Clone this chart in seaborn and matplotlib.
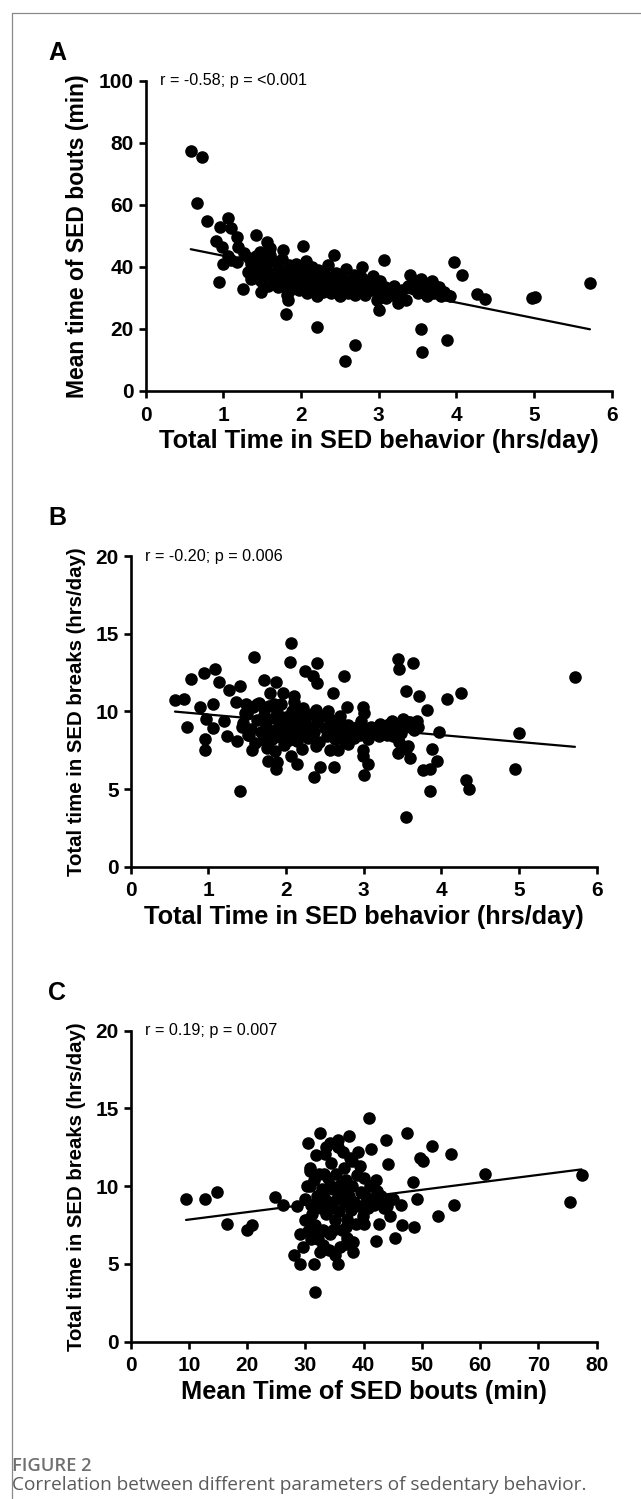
import numpy as np
import pandas as pd
import matplotlib
matplotlib.use("Agg")
import matplotlib.pyplot as plt
from matplotlib.lines import Line2D
import seaborn as sns

# ---------------- data ----------------
# Panel A: Total time in SED behavior (hrs/day) vs mean time of SED bouts (min)
A_x = [
    0.58, 0.73, 0.665, 0.785, 1.06, 0.96, 1.10, 0.91, 0.98, 1.17,
    1.19, 1.26, 1.00, 0.95, 1.25, 1.42, 1.56, 1.47, 1.60, 1.36,
    1.43, 1.48, 1.77, 2.03, 2.42, 2.78, 3.07, 3.97, 4.07, 3.40,
    4.26, 4.37, 4.97, 5.01, 5.72, 3.00, 1.80, 1.83, 2.20, 2.57,
    2.69, 3.54, 3.56, 3.88, 3.25, 1.10, 1.18, 1.33, 1.06, 1.32,
    1.35, 1.38, 1.42, 1.45, 1.48, 1.50, 1.52, 1.55, 1.58, 1.60,
    1.62, 1.65, 1.68, 1.70, 1.72, 1.74, 1.76, 1.78, 1.80, 1.82,
    1.84, 1.86, 1.88, 1.90, 1.92, 1.94, 1.96, 1.98, 2.00, 2.02,
    2.04, 2.06, 2.08, 2.10, 2.12, 2.14, 2.16, 2.18, 2.20, 2.22,
    2.24, 2.26, 2.28, 2.30, 2.32, 2.35, 2.38, 2.40, 2.42, 2.45,
    2.48, 2.50, 2.52, 2.55, 2.58, 2.60, 2.62, 2.65, 2.68, 2.70,
    2.72, 2.75, 2.78, 2.80, 2.83, 2.86, 2.90, 2.93, 2.96, 2.98,
    3.00, 3.02, 3.05, 3.08, 3.10, 3.14, 3.18, 3.20, 3.25, 3.30,
    3.35, 3.38, 3.45, 3.48, 3.50, 3.52, 3.55, 3.58, 3.60, 3.62,
    3.65, 3.68, 3.70, 3.72, 3.75, 3.78, 3.80, 3.84, 3.88, 3.92,
]
A_y = [
    77.5, 75.4, 60.7, 54.9, 55.7, 53.0, 52.5, 48.4, 46.6, 49.7,
    46.6, 44.4, 41.0, 35.3, 32.8, 50.3, 48.2, 45.0, 46.0, 36.0,
    37.0, 32.0, 45.5, 46.9, 44.0, 40.1, 42.1, 41.6, 37.5, 37.5,
    31.4, 29.6, 30.1, 30.3, 34.8, 26.2, 24.8, 29.3, 20.7, 9.6,
    14.9, 20.0, 12.7, 16.6, 28.3, 42.3, 41.5, 43.0, 43.5, 38.5,
    41.0, 36.5, 43.5, 39.0, 35.5, 42.0, 37.5, 40.5, 34.0, 44.0,
    38.0, 36.0, 41.5, 33.5, 39.0, 36.5, 42.5, 34.5, 38.0, 31.0,
    40.5, 36.0, 33.0, 39.5, 35.0, 41.0, 37.5, 32.5, 39.0, 34.0,
    36.5, 42.0, 31.5, 38.0, 35.0, 40.0, 33.0, 37.0, 30.5, 39.0,
    34.5, 36.0, 32.0, 38.5, 34.0, 40.5, 31.5, 36.5, 33.0, 38.0,
    35.0, 30.5, 37.0, 33.5, 39.5, 31.5, 35.5, 33.0, 37.5, 31.0,
    35.0, 32.5, 36.5, 33.5, 31.0, 35.0, 32.5, 37.0, 34.0, 29.5,
    32.0, 35.5, 31.0, 33.5, 30.0, 32.5, 31.0, 34.0, 30.5, 32.5,
    29.5, 34.0, 33.0, 35.5, 31.5, 34.0, 36.0, 32.5, 35.0, 30.5,
    33.5, 35.5, 31.5, 34.0, 32.5, 33.5, 30.5, 32.0, 31.0, 30.5,
]

# Panel B: Total time in SED behavior (hrs/day) vs total time in SED breaks (hrs/day)
B_x = [
    0.57, 0.68, 0.72, 0.78, 0.94, 1.08, 0.89, 1.06, 0.97, 1.06,
    0.96, 0.96, 1.14, 1.26, 1.20, 1.24, 1.41, 1.36, 1.41, 1.37,
    1.49, 1.62, 1.47, 1.43, 1.51, 1.56, 1.59, 1.71, 1.87, 1.79,
    1.70, 1.84, 1.77, 1.77, 1.87, 1.88, 2.07, 2.05, 1.96, 2.10,
    2.10, 2.07, 2.14, 2.20, 2.24, 2.35, 2.40, 2.40, 2.36, 2.38,
    2.54, 2.60, 2.74, 2.78, 2.70, 2.44, 2.62, 2.39, 2.56, 2.67,
    2.80, 2.99, 2.97, 3.01, 2.99, 2.99, 3.06, 3.01, 3.04, 3.21,
    3.12, 3.44, 3.46, 3.63, 3.55, 3.71, 3.82, 3.42, 3.48, 3.57,
    3.70, 3.38, 3.46, 3.57, 3.44, 3.55, 3.59, 3.55, 3.88, 3.76,
    3.85, 3.94, 3.85, 3.97, 4.07, 4.25, 4.32, 4.35, 4.95, 5.00,
    5.72, 1.45, 1.50, 1.52, 1.55, 1.58, 1.60, 1.62, 1.65, 1.68,
    1.70, 1.72, 1.74, 1.76, 1.78, 1.80, 1.82, 1.84, 1.86, 1.88,
    1.90, 1.92, 1.94, 1.96, 1.98, 2.00, 2.02, 2.04, 2.06, 2.08,
    2.10, 2.12, 2.14, 2.16, 2.18, 2.20, 2.22, 2.25, 2.28, 2.30,
    2.33, 2.36, 2.40, 2.43, 2.46, 2.50, 2.53, 2.56, 2.60, 2.63,
    2.66, 2.70, 2.73, 2.76, 2.80, 2.84, 2.88, 2.92, 2.95, 3.00,
    3.05, 3.10, 3.15, 3.20, 3.25, 3.30, 3.32, 3.36, 3.40, 3.50,
    3.53, 3.60, 3.65, 3.68,
]
B_y = [
    10.7, 10.8, 9.0, 12.1, 12.5, 12.7, 10.3, 10.5, 9.5, 8.95,
    8.2, 7.5, 11.9, 11.4, 9.4, 8.4, 11.6, 10.6, 4.9, 8.1,
    10.5, 10.5, 9.9, 9.0, 8.5, 7.5, 13.5, 12.0, 11.9, 11.2,
    10.3, 10.5, 7.7, 6.8, 6.3, 6.75, 14.4, 13.2, 11.2, 11.0,
    10.6, 7.1, 6.6, 7.6, 12.6, 12.3, 11.8, 13.1, 5.8, 10.1,
    10.0, 11.2, 12.3, 10.3, 9.7, 6.4, 6.4, 7.8, 7.5, 7.5,
    7.9, 10.3, 9.4, 9.9, 7.5, 7.1, 6.6, 5.9, 8.7, 9.2,
    8.6, 13.4, 12.7, 13.1, 11.3, 11.0, 10.1, 9.1, 8.6, 9.3,
    9.0, 8.4, 8.0, 7.8, 7.3, 7.6, 7.0, 3.2, 7.6, 6.2,
    6.3, 6.8, 4.9, 8.7, 10.8, 11.2, 5.6, 5.0, 6.3, 8.6,
    12.2, 9.25, 9.85, 8.45, 8.85, 10.25, 7.95, 9.45, 10.55, 8.65,
    8.15, 9.75, 9.05, 7.65, 10.35, 8.75, 8.25, 9.55, 7.45, 9.95,
    8.95, 8.35, 10.45, 9.25, 7.85, 9.65, 8.65, 8.15, 9.35, 10.05,
    8.8, 9.4, 8.1, 9.9, 9.2, 8.6, 10.2, 9.5, 8.3, 9.0,
    9.8, 8.7, 9.3, 8.0, 9.7, 8.9, 8.4, 9.5, 9.0, 8.2,
    8.8, 9.4, 8.6, 8.0, 9.1, 8.7, 8.3, 9.0, 8.5, 8.8,
    8.2, 9.0, 8.6, 8.4, 8.8, 8.5, 9.2, 9.4, 8.9, 9.5,
    9.1, 9.3, 8.8, 9.4,
]

# Panel C: Mean time of SED bouts (min) vs total time in SED breaks (hrs/day)
C_x = [
    9.5, 12.8, 14.9, 16.6, 20.0, 20.8, 24.7, 26.1, 28.5, 28.0,
    29.1, 31.5, 35.6, 31.6, 30.4, 32.5, 34.2, 35.6, 37.4, 40.9,
    41.2, 43.8, 44.1, 47.5, 48.5, 49.1, 49.7, 50.2, 51.8, 55.0,
    55.5, 52.8, 60.8, 75.4, 77.4, 46.4, 46.5, 48.7, 45.4, 42.1,
    42.7, 44.5, 44.0, 42.1, 39.1, 38.0, 38.2, 38.1, 37.1, 35.1,
    32.5, 29.6, 29.1, 40.0, 30.7, 30.7, 29.9, 30.2, 34.0, 36.0,
    30.0, 30.2, 30.5, 30.8, 31.0, 31.2, 31.5, 31.7, 32.0, 32.2,
    32.4, 32.6, 32.8, 33.0, 33.2, 33.4, 33.6, 33.8, 34.0, 34.2,
    34.4, 34.6, 34.8, 35.0, 35.2, 35.4, 35.6, 35.8, 36.0, 36.2,
    36.4, 36.6, 36.8, 37.0, 37.2, 37.4, 37.6, 37.8, 38.0, 38.3,
    38.6, 38.9, 39.2, 39.5, 39.8, 40.1, 40.4, 40.7, 41.0, 41.4,
    41.8, 42.2, 42.6, 43.0, 43.5, 44.2, 45.0, 31.0, 33.0, 37.0,
    33.5, 36.5, 31.8, 34.8, 32.3, 36.9, 39.4, 33.1, 35.9, 34.3,
]
C_y = [
    9.2, 9.2, 9.65, 7.6, 7.2, 7.5, 9.3, 8.8, 8.7, 5.6,
    5.0, 5.0, 5.0, 3.2, 12.8, 13.4, 12.8, 13.0, 13.2, 14.4,
    12.4, 13.0, 11.4, 13.4, 10.3, 9.2, 11.8, 11.6, 12.6, 12.1,
    8.8, 8.1, 10.8, 9.0, 10.7, 8.8, 7.5, 7.4, 6.7, 6.5,
    7.6, 8.1, 8.7, 10.4, 12.2, 11.6, 6.4, 5.8, 6.7, 5.6,
    5.8, 6.1, 6.9, 7.6, 11.15, 10.0, 9.2, 7.8, 5.9, 6.1,
    7.8, 10.0, 7.1, 11.0, 8.8, 8.2, 10.4, 7.5, 9.4, 6.6,
    10.8, 8.6, 9.8, 7.2, 9.3, 12.1, 8.2, 10.5, 9.0, 6.9,
    11.5, 8.6, 9.8, 7.8, 10.8, 9.2, 12.5, 8.4, 10.1, 7.2,
    9.6, 11.2, 8.9, 10.4, 7.9, 9.4, 11.8, 8.5, 10.0, 9.0,
    7.6, 10.7, 8.7, 9.6, 8.1, 10.5, 9.3, 8.6, 10.0, 9.2,
    8.8, 9.7, 9.1, 9.4, 8.6, 9.1, 9.2, 6.6, 6.2, 6.3,
    12.5, 12.2, 12.0, 7.2, 7.0, 7.4, 11.3, 10.8, 9.5, 10.1,
]

x_label_time = "Total Time in SED behavior (hrs/day)"
x_label_bout = "Mean Time of SED bouts (min)"
y_label_bout = "Mean time of SED bouts (min)"
y_label_breaks = "Total time in SED breaks (hrs/day)"
notes = ["r = -0.58; p = <0.001", "r = -0.20; p = 0.006", "r = 0.19; p = 0.007"]
letters = ["A", "B", "C"]
time_ticks = [0, 1, 2, 3, 4, 5, 6]
bout_x_ticks = [0, 10, 20, 30, 40, 50, 60, 70, 80]
bout_y_ticks = [0, 20, 40, 60, 80, 100]
break_ticks = [0, 5, 10, 15, 20]
caption_head = "FIGURE 2"
caption_text = "Correlation between different parameters of sedentary behavior."

# ---------------- style ----------------
sns.set_style("ticks")
plt.rcParams["font.family"] = ["Liberation Sans", "DejaVu Sans"]
plt.rcParams["text.color"] = "black"
plt.rcParams["axes.labelcolor"] = "black"
plt.rcParams["xtick.color"] = "black"
plt.rcParams["ytick.color"] = "black"
plt.rcParams["axes.edgecolor"] = "black"

W, H = 641, 1499
fig = plt.figure(figsize=(W / 100, H / 100), dpi=100)


def px_rect(left, top, right, bottom):
    return [left / W, 1 - bottom / H, (right - left) / W, (bottom - top) / H]


def panel(rect, x, y, xlim, xticks, ylim, yticks, xlabel, ylabel, ylsize, note, letter, letter_base):
    ax = fig.add_axes(rect)
    df = pd.DataFrame({"x": x, "y": y})
    sns.regplot(data=df, x="x", y="y", ax=ax, ci=None, truncate=True,
                scatter_kws=dict(s=82, color="black", linewidths=0, alpha=1, zorder=3),
                line_kws=dict(color="black", lw=1.6, zorder=4))
    ax.set_xlim(*xlim)
    ax.set_ylim(*ylim)
    ax.set_xticks(xticks)
    ax.set_yticks(yticks)
    sns.despine(ax=ax)
    for s in ("left", "bottom"):
        ax.spines[s].set_linewidth(1.9)
        ax.spines[s].set_color("black")
    ax.tick_params(axis="both", length=5, width=1.9, color="black", labelsize=15,
                   labelcolor="black")
    ax.tick_params(axis="x", pad=5.5)
    ax.tick_params(axis="y", pad=3.5)
    for lab in ax.get_xticklabels() + ax.get_yticklabels():
        lab.set_fontweight("bold")
    ax.set_xlabel(xlabel, fontsize=18.3, fontweight="bold", labelpad=3.5, color="black")
    ax.set_ylabel(ylabel, fontsize=ylsize, fontweight="bold", labelpad=7, color="black")
    ax.text(0.03, 1.0, note, transform=ax.transAxes, ha="left", va="center",
            fontsize=11.6, color="black")
    fig.text(48 / W, 1 - letter_base / H, letter, fontsize=18, fontweight="bold",
             ha="left", va="baseline", color="black")
    return ax


panel(px_rect(145.7, 81, 611.7, 391), A_x, A_y, (0, 6), time_ticks, (0, 100), bout_y_ticks,
      x_label_time, y_label_bout, 16.5, notes[0], letters[0], 60)
panel(px_rect(130.7, 556, 596.7, 866.7), B_x, B_y, (0, 6), time_ticks, (0, 20), break_ticks,
      x_label_time, y_label_breaks, 14.7, notes[1], letters[1], 525)
panel(px_rect(130.7, 1030.7, 596.7, 1341.7), C_x, C_y, (0, 80), bout_x_ticks, (0, 20), break_ticks,
      x_label_bout, y_label_breaks, 14.7, notes[2], letters[2], 1000)

# frame lines of the figure box
fig.add_artist(Line2D([11.5 / W, 11.5 / W], [0, 1 - 12.7 / H], transform=fig.transFigure,
                      color="#8a8a8a", lw=0.9))
fig.add_artist(Line2D([11.5 / W, 1], [1 - 12.7 / H, 1 - 12.7 / H], transform=fig.transFigure,
                      color="#8a8a8a", lw=0.9))

# caption
head = fig.text(12 / W, 1 - 1466 / H, caption_head, fontsize=10, family=["Open Sans", "DejaVu Sans"],
                color="#707070", ha="left", va="center", fontweight="semibold")
cap = fig.text(12 / W, 1 - 1485 / H, caption_text, fontsize=12, family=["Open Sans", "DejaVu Sans"],
               color="#5a5a5a", ha="left", va="center")

fig.canvas.draw()
r = fig.canvas.get_renderer()
for t, target in ((head, 80), (cap, 573)):
    w = t.get_window_extent(r).width
    t.set_fontsize(t.get_fontsize() * target / w)

fig.savefig("out.png", dpi=100)
